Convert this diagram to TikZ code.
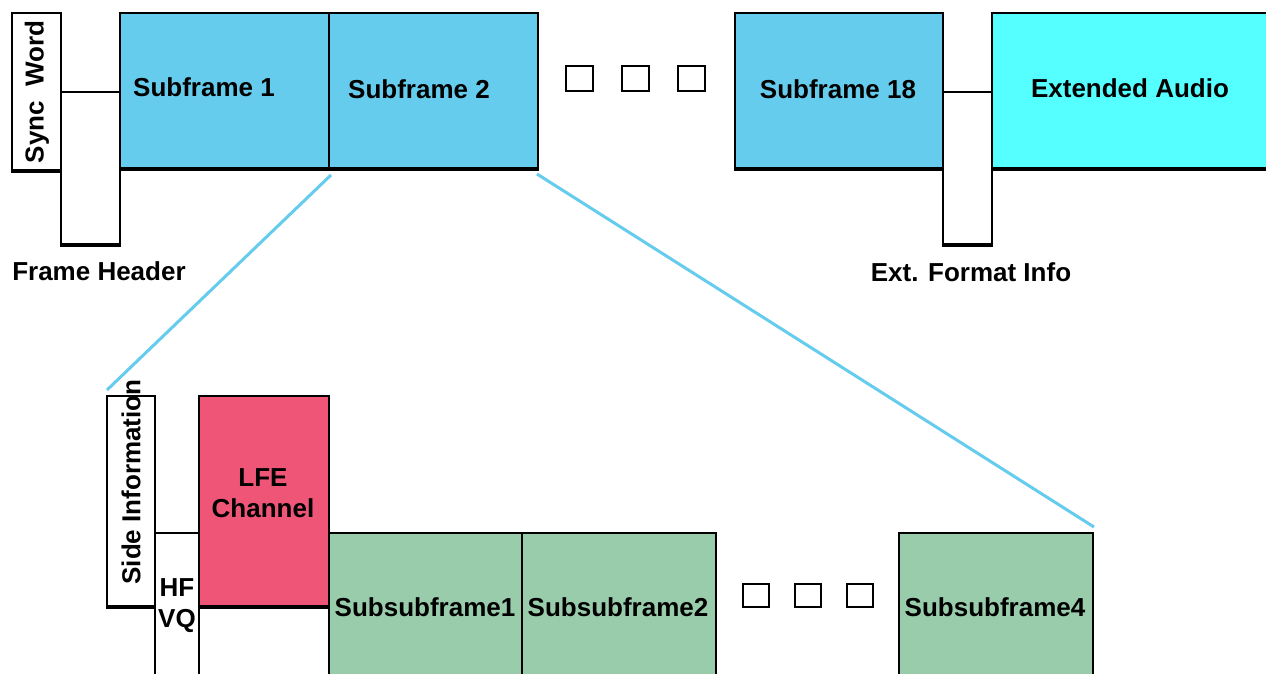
\documentclass[tikz,border=0pt]{standalone}
\usepackage{fontspec}
\setmainfont{Liberation Sans}
\usetikzlibrary{fit}
\definecolor{sfblue}{HTML}{66CCEE}
\definecolor{extcyan}{HTML}{55FFFF}
\definecolor{lfered}{HTML}{EE5577}
\definecolor{ssgreen}{HTML}{99CCAA}
\definecolor{zoomline}{HTML}{66CCEE}
\begin{document}
\begin{tikzpicture}[x=0.5pt,y=-0.5pt,
  field/.style={draw=black, line width=1pt, inner sep=0pt, outer sep=0pt},
  slot/.style={inner sep=0pt, outer sep=0pt},
  txt/.style={font=\bfseries\fontsize{13}{15.5}\selectfont, inner sep=0pt, text=black},
  heavy/.style={line width=2pt, shorten <=-0.5pt, shorten >=-0.5pt},
  hair/.style={line width=0.55pt},
  dotbox/.style={draw=black, line width=1pt, fill=white, inner sep=0pt, outer sep=0pt},
  zoom/.style={draw=zoomline, line width=1.5pt}
]
\clip (0,0) rectangle (1266,674);
\fill[white] (0,0) rectangle (1266,674);

% ---------- frame level ----------
\node[slot, fit={(61,92)(120,245)}] (hdr) {};
\node[slot, fit={(943,92)(992,245)}] (efi) {};

\node[field, fill=white, fit={(12,13)(61,170)}] (sync) {};
\node[txt, rotate=90] (synct) at (37,92) {Sync\ \ Word};

\node[field, fill=sfblue, fit={(120,13)(329,168)}] (sf1) {};
\node[field, fill=sfblue, fit={(329,13)(538,168)}] (sf2) {};
\node[field, fill=sfblue, fit={(735,13)(943,168)}] (sf18) {};
\node[field, fill=extcyan, fit={(992,13)(1290,168)}] (ext) {};

\node[txt] (sf1t) at (204,87) {Subframe 1};
\node[txt] (sf2t) at (419,89) {Subframe 2};
\node[txt] (sf18t) at (838,89) {Subframe 18};
\node[txt] (extt) at (1130,88) {Extended Audio};

% heavy lower edges
\draw[heavy] ([yshift=-0.5pt]sync.south west) -- ([yshift=-0.5pt]sync.south east);
\draw[heavy] ([yshift=-0.6pt]sf1.south west) -- ([yshift=-0.6pt]sf2.south east);
\draw[heavy] ([yshift=-0.6pt]sf18.south west) -- ([yshift=-0.6pt]sf18.south east);
\draw[heavy] ([yshift=-0.6pt]ext.south west) -- ([yshift=-0.6pt]ext.south east);

% frame header field
\draw[hair] (hdr.north west) -- (hdr.north east);
\draw[line width=1pt] (hdr.west |- sync.south) -- (hdr.south west);
\draw[heavy] (hdr.south west) -- (hdr.south east);
\draw[line width=1pt] (hdr.south east) -- (hdr.east |- sf1.south);

% extension format info field
\draw[hair] (efi.north west) -- (efi.north east);
\draw[hair] (efi.west |- sf18.south) -- (efi.south west);
\draw[heavy] (efi.south west) -- (efi.south east);
\draw[line width=1.2pt] (efi.south east) -- (efi.east |- ext.south);

\node[dotbox, fit={(566,66)(593,91)}] (d1) {};
\node[dotbox, fit={(622,66)(649,91)}] (d2) {};
\node[dotbox, fit={(678,66)(705,91)}] (d3) {};

\node[txt] (hdrt) at (99,271) {Frame Header};
\node[txt] (efit) at (971,272) {Ext. Format Info};

% ---------- subframe level ----------
\node[slot, fit={(155,533)(199,690)}] (hf) {};
\node[field, fill=ssgreen, fit={(329,533)(522,690)}] (ss1) {};
\node[field, fill=ssgreen, fit={(522,533)(716,690)}] (ss2) {};
\node[field, fill=ssgreen, fit={(899,533)(1093,690)}] (ss4) {};
\node[field, fill=white, fit={(107,396)(155,606)}] (side) {};
\node[field, fill=lfered, fit={(199,396)(329,606)}] (lfe) {};

\draw[heavy] ([yshift=-0.5pt]side.south west) -- ([yshift=-0.5pt]side.south east);
\draw[heavy] ([yshift=-0.5pt]lfe.south west) -- ([yshift=-0.5pt]lfe.south east);

\draw[hair] (hf.north west) -- (hf.north east);
\draw[line width=0.9pt] (hf.west |- side.south) -- (hf.south west);
\draw[hair] (hf.east |- lfe.south) -- (hf.south east);

\node[dotbox, fit={(743,584)(769,607)}] (e1) {};
\node[dotbox, fit={(795,584)(821,607)}] (e2) {};
\node[dotbox, fit={(847,584)(873,607)}] (e3) {};

% zoom lines from subframe 2 down to its breakdown
\draw[zoom] ([shift={(1pt,-3.5pt)}]sf2.south west) -- ([shift={(0pt,3pt)}]side.north west);
\draw[zoom] ([shift={(-0.5pt,-3pt)}]sf2.south east) -- ([shift={(0.5pt,3pt)}]ss4.north east);

\node[txt, rotate=90] (sidet) at (131,482) {Side Information};
\node[txt, align=center] (hft) at (177,606) {HF\\VQ};
\node[txt, align=center] (lfet) at (263,493) {LFE\\Channel};
\node[txt] (ss1t) at (425,607) {Subsubframe1};
\node[txt] (ss2t) at (618,607) {Subsubframe2};
\node[txt] (ss4t) at (995,607) {Subsubframe4};
\end{tikzpicture}
\end{document}
